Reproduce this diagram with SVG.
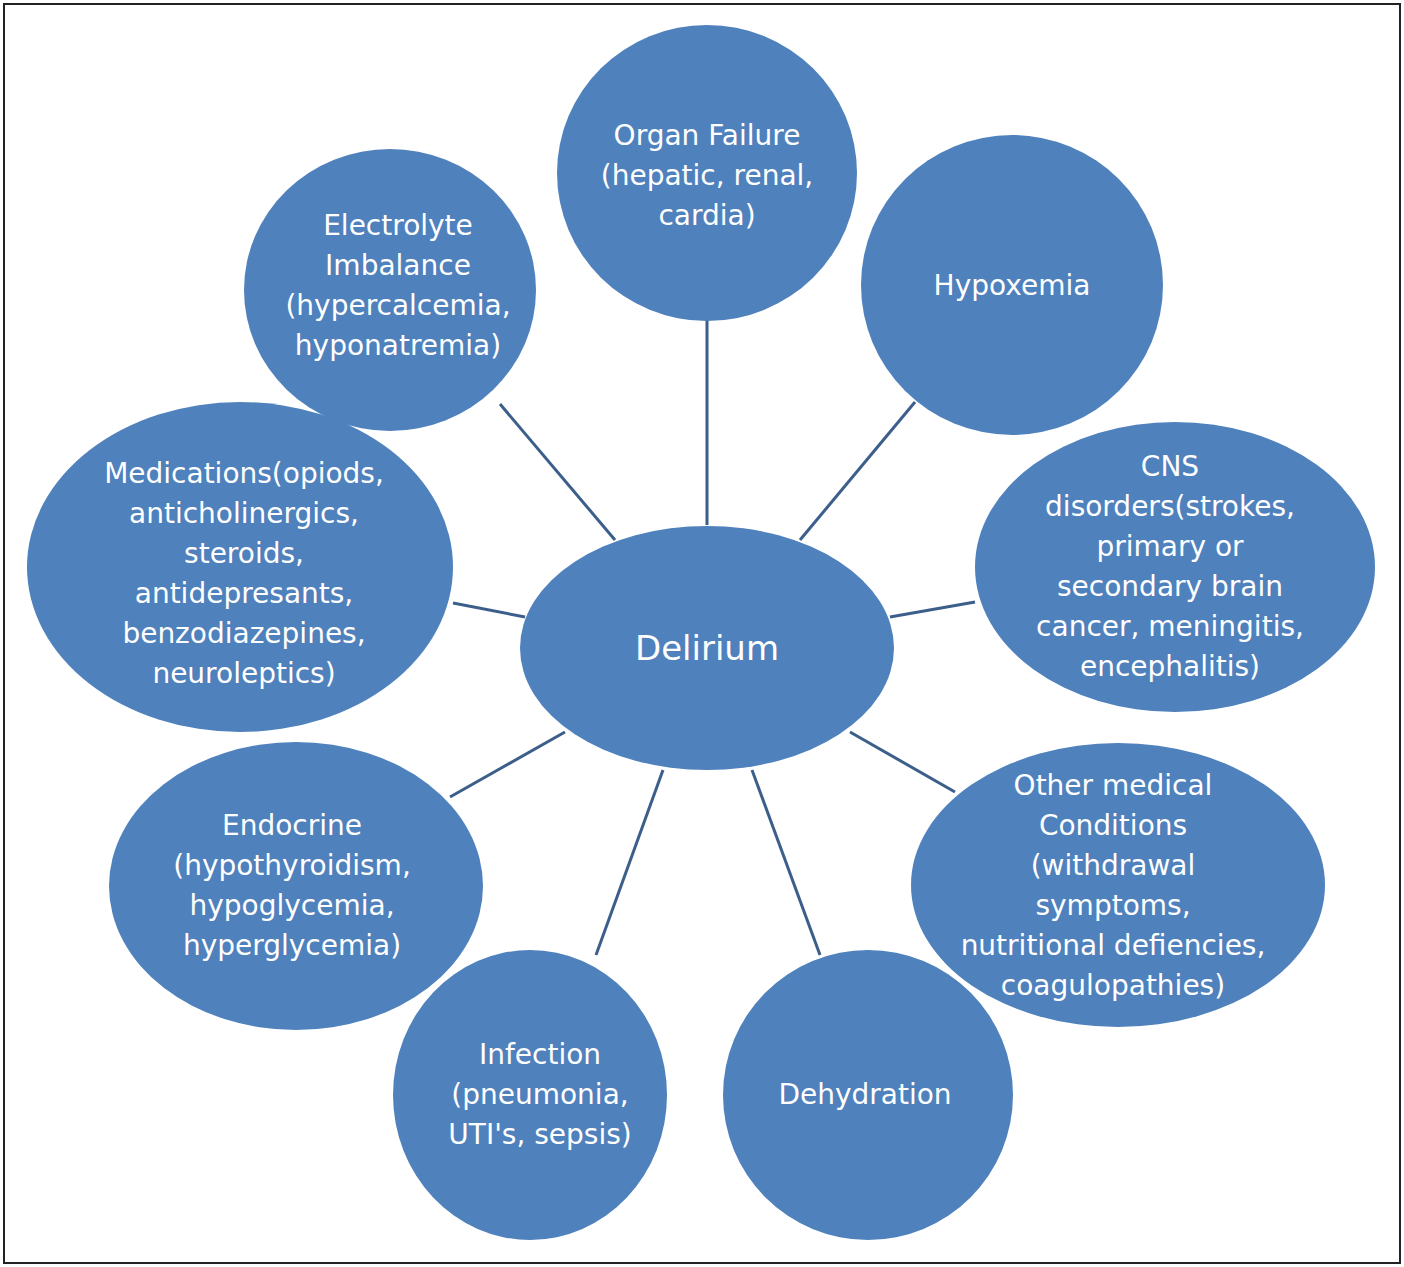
<svg xmlns="http://www.w3.org/2000/svg" width="1404" height="1267" viewBox="0 0 1404 1267">
<style>
.n{fill:#4f81bd}
.t{fill:#fff;font-family:"DejaVu Sans",sans-serif;font-size:28px;text-anchor:middle}
.c line{stroke:#3b5f8a;stroke-width:3}
</style>
<rect x="0" y="0" width="1404" height="1267" fill="#fff"/>
<rect x="4" y="4" width="1396" height="1259" fill="none" stroke="#222" stroke-width="2"/>
<g class="c">
<line x1="707" y1="320" x2="707" y2="525"/>
<line x1="915" y1="402" x2="800" y2="540"/>
<line x1="500" y1="404" x2="615" y2="540"/>
<line x1="453" y1="603" x2="525" y2="617"/>
<line x1="975" y1="602" x2="890" y2="617"/>
<line x1="450" y1="797" x2="565" y2="732"/>
<line x1="850" y1="732" x2="955" y2="792"/>
<line x1="596" y1="955" x2="663" y2="770"/>
<line x1="820" y1="955" x2="752" y2="770"/>
</g>
<g id="delirium"><ellipse class="n" cx="707" cy="648" rx="187" ry="122"/><text class="t" x="707" y="660" style="font-size:34px">Delirium</text></g>
<g id="organ"><ellipse class="n" cx="707" cy="173" rx="150" ry="148"/><text class="t" x="707" y="145">Organ Failure</text><text class="t" x="707" y="185">(hepatic, renal,</text><text class="t" x="707" y="225">cardia)</text></g>
<g id="hypoxemia"><ellipse class="n" cx="1012" cy="285" rx="151" ry="150"/><text class="t" x="1012" y="295">Hypoxemia</text></g>
<g id="electrolyte"><ellipse class="n" cx="390" cy="290" rx="146" ry="141"/><text class="t" x="398" y="235">Electrolyte</text><text class="t" x="398" y="275">Imbalance</text><text class="t" x="398" y="315">(hypercalcemia,</text><text class="t" x="398" y="355">hyponatremia)</text></g>
<g id="medications"><ellipse class="n" cx="240" cy="567" rx="213" ry="165"/><text class="t" x="244" y="483">Medications(opiods,</text><text class="t" x="244" y="523">anticholinergics,</text><text class="t" x="244" y="563">steroids,</text><text class="t" x="244" y="603">antidepresants,</text><text class="t" x="244" y="643">benzodiazepines,</text><text class="t" x="244" y="683">neuroleptics)</text></g>
<g id="cns"><ellipse class="n" cx="1175" cy="567" rx="200" ry="145"/><text class="t" x="1170" y="476">CNS</text><text class="t" x="1170" y="516">disorders(strokes,</text><text class="t" x="1170" y="556">primary or</text><text class="t" x="1170" y="596">secondary brain</text><text class="t" x="1170" y="636">cancer, meningitis,</text><text class="t" x="1170" y="676">encephalitis)</text></g>
<g id="endocrine"><ellipse class="n" cx="296" cy="886" rx="187" ry="144"/><text class="t" x="292" y="835">Endocrine</text><text class="t" x="292" y="875">(hypothyroidism,</text><text class="t" x="292" y="915">hypoglycemia,</text><text class="t" x="292" y="955">hyperglycemia)</text></g>
<g id="other"><ellipse class="n" cx="1118" cy="885" rx="207" ry="142"/><text class="t" x="1113" y="795">Other medical</text><text class="t" x="1113" y="835">Conditions</text><text class="t" x="1113" y="875">(withdrawal</text><text class="t" x="1113" y="915">symptoms,</text><text class="t" x="1113" y="955">nutritional defiencies,</text><text class="t" x="1113" y="995">coagulopathies)</text></g>
<g id="infection"><ellipse class="n" cx="530" cy="1095" rx="137" ry="145"/><text class="t" x="540" y="1064">Infection</text><text class="t" x="540" y="1104">(pneumonia,</text><text class="t" x="540" y="1144">UTI's, sepsis)</text></g>
<g id="dehydration"><ellipse class="n" cx="868" cy="1095" rx="145" ry="145"/><text class="t" x="865" y="1104">Dehydration</text></g>
</svg>
